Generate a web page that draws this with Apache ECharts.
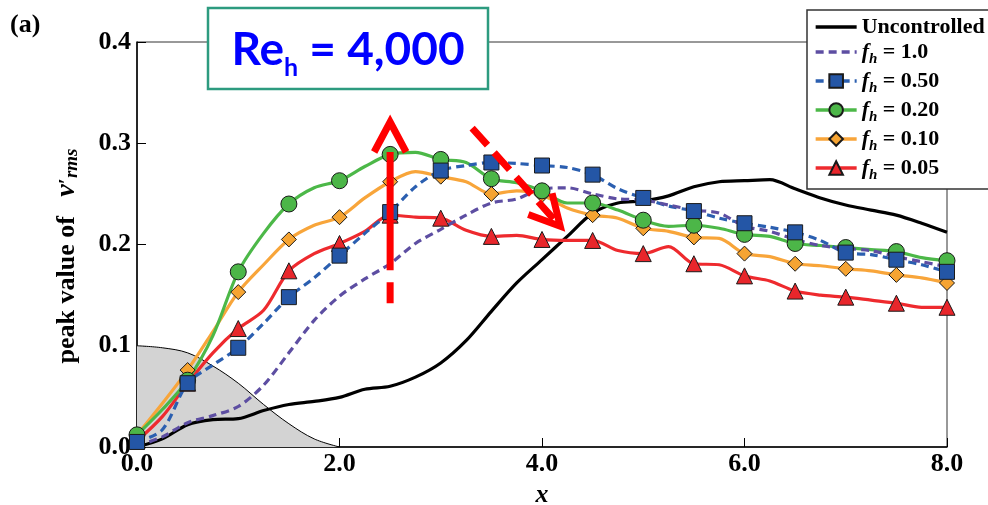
<!DOCTYPE html>
<html>
<head>
<meta charset="utf-8">
<script src="https://cdn.jsdelivr.net/npm/echarts@6/dist/echarts.min.js"></script>
<style>
  html, body { margin: 0; padding: 0; background: #fff; }
  #chart { width: 988px; height: 505px; }
</style>
</head>
<body>
<div id="chart"></div>
<script>
// Streamwise positions (x = 0 ... 8, step 0.25); markers sit on every 0.5
const xs = [0, 0.25, 0.5, 0.75, 1, 1.25, 1.5, 1.75, 2, 2.25, 2.5, 2.75, 3, 3.25, 3.5, 3.75,
            4, 4.25, 4.5, 4.75, 5, 5.25, 5.5, 5.75, 6, 6.25, 6.5, 6.75, 7, 7.25, 7.5, 7.75, 8];

// Peak value of v'_rms along x
const uncontrolled = [0.000, 0.008, 0.022, 0.027, 0.028, 0.036, 0.042, 0.045, 0.049, 0.057, 0.060, 0.069,
  0.083, 0.105, 0.134, 0.162, 0.185, 0.208, 0.231, 0.241, 0.243, 0.248, 0.257, 0.262, 0.263, 0.264,
  0.255, 0.246, 0.239, 0.234, 0.229, 0.221, 0.212];
const fh100 = [0.001, 0.010, 0.024, 0.031, 0.040, 0.061, 0.093, 0.125, 0.149, 0.166, 0.181, 0.201,
  0.215, 0.229, 0.241, 0.245, 0.255, 0.256, 0.250, 0.245, 0.244, 0.239, 0.234, 0.231, 0.218, 0.213,
  0.205, 0.199, 0.196, 0.194, 0.188, 0.183, 0.178];
const fh050 = [0.005, 0.017, 0.063, 0.081, 0.098, 0.122, 0.148, 0.167, 0.189, 0.211, 0.232, 0.257,
  0.273, 0.278, 0.281, 0.280, 0.278, 0.276, 0.269, 0.255, 0.246, 0.238, 0.233, 0.226, 0.221, 0.217,
  0.212, 0.204, 0.192, 0.190, 0.185, 0.180, 0.173];
const fh020 = [0.012, 0.037, 0.066, 0.110, 0.173, 0.211, 0.240, 0.256, 0.263, 0.277, 0.289, 0.291,
  0.284, 0.281, 0.265, 0.261, 0.253, 0.241, 0.241, 0.234, 0.224, 0.218, 0.219, 0.216, 0.210, 0.208,
  0.201, 0.199, 0.197, 0.195, 0.193, 0.187, 0.184];
const fh010 = [0.012, 0.043, 0.076, 0.114, 0.153, 0.180, 0.205, 0.219, 0.227, 0.246, 0.262, 0.272,
  0.267, 0.262, 0.250, 0.253, 0.249, 0.236, 0.229, 0.226, 0.216, 0.213, 0.207, 0.206, 0.191, 0.188,
  0.181, 0.179, 0.176, 0.174, 0.170, 0.167, 0.162];
const fh005 = [0.006, 0.030, 0.063, 0.093, 0.117, 0.135, 0.174, 0.191, 0.201, 0.213, 0.229, 0.227,
  0.226, 0.214, 0.208, 0.209, 0.205, 0.204, 0.204, 0.194, 0.191, 0.198, 0.181, 0.180, 0.169, 0.164,
  0.154, 0.150, 0.148, 0.145, 0.142, 0.138, 0.138];

// Forcing profile (shaded hump near the inlet)
const humpX = [0, 0.25, 0.5, 0.75, 1, 1.25, 1.5, 1.75, 2];
const humpV = [0.100, 0.098, 0.093, 0.080, 0.063, 0.042, 0.023, 0.008, 0.000];

const xTicks = [0, 2, 4, 6, 8];
const yTicks = [0, 0.1, 0.2, 0.3, 0.4];

// Annotation arrows in data coordinates
const arrowUp = { from: [2.5, 0.142], to: [2.5, 0.321] };
const arrowDown = { from: [3.31, 0.315], to: [4.18, 0.218] };

const SERIF = '"Liberation Serif", "Times New Roman", serif';

function linePoints(vals, withMarkers) {
  return xs.map((x, i) => {
    const item = { value: [x, vals[i]] };
    if (!withMarkers || i % 2 === 1) item.symbol = 'none';
    return item;
  });
}

function curve(name, vals, color, opts) {
  return {
    name: name,
    type: 'line',
    smooth: 0.3,
    data: linePoints(vals, !!opts.symbol),
    symbol: opts.symbol || 'none',
    symbolSize: opts.size || 15,
    lineStyle: { color: color, width: opts.width || 3.2, type: opts.dash ? [8, 5] : 'solid' },
    itemStyle: opts.symbol
      ? { color: opts.fill || color, borderColor: '#1a1a1a', borderWidth: 1 }
      : { color: color, opacity: 0 },
    z: 3,
    emphasis: { disabled: true }
  };
}

const chart = echarts.init(document.getElementById('chart'), null, { renderer: 'canvas' });

const series = [
  {
    name: 'hump', type: 'line', smooth: 0.35, symbol: 'none', z: 1,
    data: humpX.map((x, i) => [x, humpV[i]]),
    lineStyle: { color: '#000', width: 1 },
    areaStyle: { color: '#d3d3d3', opacity: 1 },
    emphasis: { disabled: true }
  },
  curve('Uncontrolled', uncontrolled, '#000000', { width: 3.2 }),
  curve('f_h = 0.05', fh005, '#ee2a2e', { symbol: 'triangle', size: 16, fill: '#e8262b' }),
  curve('f_h = 0.10', fh010, '#f8a53a', { symbol: 'diamond', size: 15, fill: '#f6a432' }),
  curve('f_h = 0.20', fh020, '#4cb848', { symbol: 'circle', size: 16, fill: '#4cb648' }),
  curve('f_h = 0.50', fh050, '#2b5fb0', { symbol: 'rect', size: 15, dash: true, fill: '#2456a6' }),
  curve('f_h = 1.0', fh100, '#5d4ea2', { dash: true })
];

const legendOrder = [
  { name: 'Uncontrolled', itemStyle: { opacity: 0 } },
  { name: 'f_h = 1.0', itemStyle: { opacity: 0 } },
  'f_h = 0.50', 'f_h = 0.20', 'f_h = 0.10', 'f_h = 0.05'
];

chart.setOption({
  animation: false,
  backgroundColor: '#fff',
  grid: {
    left: 137, right: 41, top: 42, bottom: 58,
    outerBoundsMode: 'none', containLabel: false,
    show: true, borderColor: '#333', borderWidth: 1
  },
  xAxis: {
    type: 'value', min: 0, max: 8, interval: 2,
    name: 'x', nameLocation: 'middle', nameGap: 31,
    nameTextStyle: { fontFamily: SERIF, fontStyle: 'italic', fontWeight: 'bold', fontSize: 26, color: '#000' },
    axisLine: { lineStyle: { color: '#000', width: 1.5 } },
    axisTick: { inside: true, length: 9, lineStyle: { color: '#000', width: 1 } },
    splitLine: { show: false },
    axisLabel: {
      margin: 4, color: '#000', fontFamily: SERIF, fontWeight: 'bold', fontSize: 26,
      formatter: v => xTicks.indexOf(v) >= 0 ? v.toFixed(1) : ''
    }
  },
  yAxis: {
    type: 'value', min: 0, max: 0.4, interval: 0.1,
    axisLine: { show: true, lineStyle: { color: '#000', width: 1.5 } },
    axisTick: { show: true, inside: true, length: 9, lineStyle: { color: '#000', width: 1 } },
    splitLine: { show: false },
    axisLabel: {
      margin: 6, color: '#000', fontFamily: SERIF, fontWeight: 'bold', fontSize: 26,
      formatter: v => yTicks.some(t => Math.abs(t - v) < 1e-9) ? v.toFixed(1) : ''
    }
  },
  legend: {
    data: legendOrder,
    orient: 'vertical', left: 807, top: 10,
    padding: [6, 30, 6, 7],
    itemWidth: 41, itemHeight: 17, itemGap: 3,
    backgroundColor: '#fff', borderColor: '#333', borderWidth: 1.5,
    selectedMode: false,
    lineStyle: { width: 3.3 },
    formatter: name => name.indexOf('f_h') === 0
      ? '{f|f}{h|h}{n|' + name.slice(3) + '}'
      : '{n|' + name + '}',
    textStyle: {
      color: '#000', fontFamily: SERIF, fontWeight: 'bold', fontSize: 22,
      rich: {
        n: { fontFamily: SERIF, fontWeight: 'bold', fontSize: 22, lineHeight: 30, color: '#000' },
        f: { fontFamily: SERIF, fontWeight: 'bold', fontStyle: 'italic', fontSize: 22, lineHeight: 30, color: '#000' },
        h: { fontFamily: SERIF, fontWeight: 'bold', fontStyle: 'italic', fontSize: 15, lineHeight: 14,
             verticalAlign: 'bottom', color: '#000' }
      }
    }
  },
  series: series
});

// Arrow shapes built in pixel space from their data-space endpoints
function arrowElements(a, dash, shaftGapFromTip) {
  const p0 = chart.convertToPixel({ gridIndex: 0 }, a.from);
  const p1 = chart.convertToPixel({ gridIndex: 0 }, a.to);
  const dx = p1[0] - p0[0], dy = p1[1] - p0[1];
  const len = Math.hypot(dx, dy);
  const ux = dx / len, uy = dy / len;
  const armLen = 34, ang = 28 * Math.PI / 180;
  const arm = s => {
    const c = Math.cos(s * ang), sn = Math.sin(s * ang);
    const rx = ux * c - uy * sn, ry = ux * sn + uy * c;
    return [p1[0] - rx * armLen, p1[1] - ry * armLen];
  };
  const end = [p1[0] - ux * shaftGapFromTip, p1[1] - uy * shaftGapFromTip];
  const style = { stroke: '#ff0000', lineWidth: 7, fill: null, lineCap: 'butt', lineJoin: 'miter' };
  return [
    { type: 'line', z: 200, shape: { x1: p0[0], y1: p0[1], x2: end[0], y2: end[1] },
      style: Object.assign({}, style, { lineDash: dash }) },
    { type: 'polyline', z: 200, shape: { points: [arm(1), p1, arm(-1)] }, style: style }
  ];
}

const graphics = [
  // Panel label
  { type: 'text', z: 100, left: 10, top: 12,
    style: { text: '(a)', font: 'bold 26px ' + SERIF, fill: '#000' } },
  // Reynolds number box
  { type: 'rect', z: 100, shape: { x: 208, y: 8, width: 280, height: 81 },
    style: { fill: '#fff', stroke: '#2d9b7f', lineWidth: 2.5 } },
  { type: 'text', z: 101, x: 348, y: 50,
    style: {
      text: '{m|Re}{s|h}{m| = 4,000}', align: 'center', verticalAlign: 'middle',
      rich: {
        m: { fontFamily: 'Lato, "Open Sans", sans-serif', fontWeight: 'bold', fontSize: 46, lineHeight: 60, fill: '#0000ff' },
        s: { fontFamily: 'Lato, "Open Sans", sans-serif', fontWeight: 'bold', fontSize: 25, lineHeight: 23,
             verticalAlign: 'bottom', fill: '#0000ff' }
      }
    } },
  // Y-axis title
  { type: 'text', z: 100, x: 67, y: 256, rotation: Math.PI / 2,
    style: {
      text: '{a|peak value of   }{v|v}{p|\u2032}{s|rms}', align: 'center', verticalAlign: 'middle',
      rich: {
        a: { fontFamily: SERIF, fontWeight: 'bold', fontSize: 26, lineHeight: 30, fill: '#000' },
        v: { fontFamily: SERIF, fontWeight: 'bold', fontStyle: 'italic', fontSize: 28, lineHeight: 30, fill: '#000' },
        p: { fontFamily: SERIF, fontWeight: 'bold', fontSize: 22, lineHeight: 30, fill: '#000' },
        s: { fontFamily: SERIF, fontWeight: 'bold', fontStyle: 'italic', fontSize: 19, lineHeight: 18,
             verticalAlign: 'bottom', fill: '#000' }
      }
    } }
].concat(arrowElements(arrowUp, [21, 12, 400], 30), arrowElements(arrowDown, [23, 10], 0));

chart.setOption({ graphic: graphics });
</script>
</body>
</html>
